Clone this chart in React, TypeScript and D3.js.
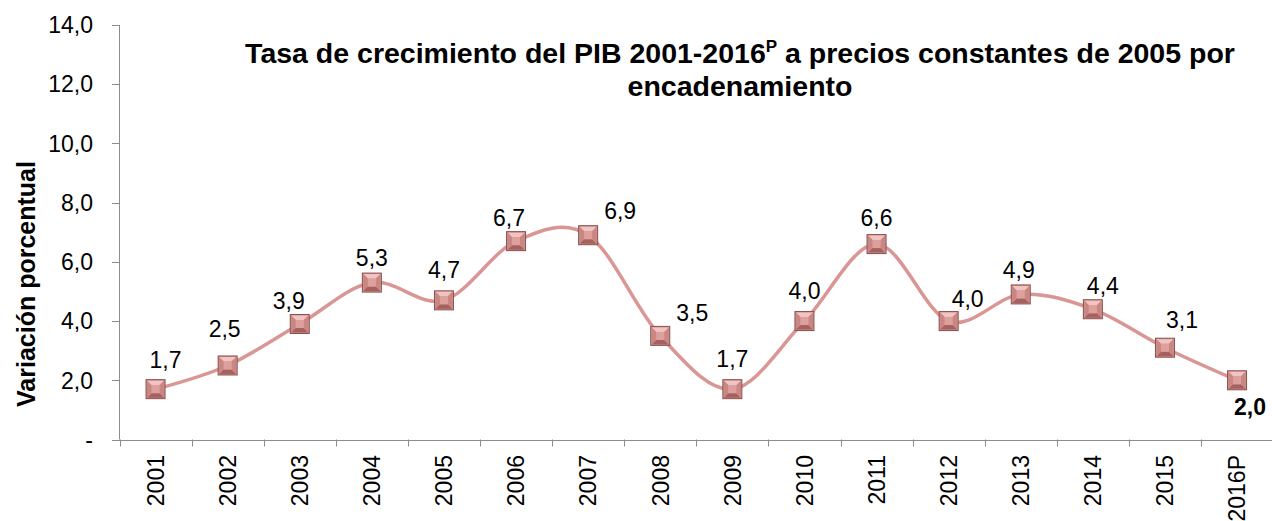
import React from "react";
import * as d3 from "d3";

const categories = ["2001","2002","2003","2004","2005","2006","2007","2008","2009","2010","2011","2012","2013","2014","2015","2016P"];
const values = [1.7, 2.5, 3.9, 5.3, 4.7, 6.7, 6.9, 3.5, 1.7, 4.0, 6.6, 4.0, 4.9, 4.4, 3.1, 2.0];
const yTicks = [0, 2, 4, 6, 8, 10, 12, 14];
// label placement (px offsets from marker center, to label baseline center)
const labelOffsets: [number, number][] = [
  [10, -21], [-3, -28], [-11, -15], [0, -17], [0, -22], [-7, -15], [32, -16], [32, -15],
  [0, -22], [0, -22], [0, -18], [19, -14], [-2, -16], [10, -15], [17, -20], [13, 35],
];

const W = 1272, H = 521;
const fmt = (v: number) => (v === 0 ? "-" : v.toFixed(1).replace(".", ","));

export default function App() {
  const x = d3.scaleBand<string>().domain(categories).range([119.5, 119.5 + 16 * 72.1]).padding(0);
  const y = d3.scaleLinear().domain([0, 14]).range([439.5, 25]);
  const pts: [number, number][] = values.map((v, i) => [x(categories[i])! + x.bandwidth() / 2, y(v)]);
  const line = d3.line().curve(d3.curveCardinal.tension(0))(pts) || "";
  const axisColor = "#8c8c8c";
  const font = "'Liberation Sans', Arial, sans-serif";
  const ms = 9.5;
  const inner = 4;
  const fs = 23;
  return (
    <div style={{ position: "absolute", left: 0, top: 0 }}>
      <svg width={W} height={H} style={{ display: "block", background: "#fff" }} fontFamily={font}>
        {/* title */}
        <text x={740} y={63} textAnchor="middle" fontSize={28.5} fontWeight="bold" fill="#000">
          Tasa de crecimiento del PIB 2001-2016<tspan fontSize={17} dy={-11}>P</tspan>
          <tspan dy={11}> a precios constantes de 2005 por</tspan>
        </text>
        <text x={740} y={96} textAnchor="middle" fontSize={28.5} fontWeight="bold" fill="#000">
          encadenamiento
        </text>
        {/* y axis title */}
        <text transform={`translate(35,284) rotate(-90)`} textAnchor="middle" fontSize={25} fontWeight="bold" fill="#000">
          Variación porcentual
        </text>
        {/* y axis */}
        <line x1={119.5} x2={119.5} y1={y(14)} y2={y(0)} stroke={axisColor} strokeWidth={1} />
        {yTicks.map((t) => (
          <g key={t}>
            <line x1={112} x2={119.5} y1={Math.round(y(t)) + 0.5} y2={Math.round(y(t)) + 0.5} stroke={axisColor} />
            <text x={93} y={y(t)} dy="0.36em" textAnchor="end" fontSize={fs} fill="#000">{fmt(t)}</text>
          </g>
        ))}
        {/* x axis */}
        <line x1={112} x2={W} y1={Math.round(y(0)) + 0.5} y2={Math.round(y(0)) + 0.5} stroke={axisColor} />
        {categories.map((c) => (
          <g key={c}>
            <line x1={Math.round(x(c)!) + 0.5} x2={Math.round(x(c)!) + 0.5} y1={y(0)} y2={y(0) + 7} stroke={axisColor} />
            <text transform={`translate(${x(c)! + x.bandwidth() / 2},455) rotate(-90)`} textAnchor="end" dy="0.36em" fontSize={fs} fill="#000">{c}</text>
          </g>
        ))}
        {/* line */}
        <path d={line} fill="none" stroke="#d99694" strokeWidth={3.5} />
        {/* markers */}
        {pts.map(([px, py], i) => (
          <g key={i} transform={`translate(${px},${py})`}>
            <rect x={-ms} y={-ms} width={2 * ms} height={2 * ms} fill="#d6918e" stroke="#8a4f4d" strokeWidth={1} />
            <polygon points={`${-ms + 1},${-ms + 1} ${ms - 1},${-ms + 1} ${inner},${-inner} ${-inner},${-inner}`} fill="#f0c4c2" />
            <polygon points={`${-ms + 1},${ms - 1} ${ms - 1},${ms - 1} ${inner},${inner} ${-inner},${inner}`} fill="#a5615f" />
            <polygon points={`${-ms + 1},${-ms + 1} ${-inner},${-inner} ${-inner},${inner} ${-ms + 1},${ms - 1}`} fill="#c98784" />
            <polygon points={`${ms - 1},${-ms + 1} ${inner},${-inner} ${inner},${inner} ${ms - 1},${ms - 1}`} fill="#c98784" />
            <rect x={-inner} y={-inner} width={2 * inner} height={2 * inner} fill="#dda09d" />
          </g>
        ))}
        {/* labels */}
        {pts.map(([px, py], i) => (
          <text key={i} x={px + labelOffsets[i][0]} y={py + labelOffsets[i][1]} textAnchor="middle" fontSize={fs}
            fontWeight={i === values.length - 1 ? "bold" : "normal"} fill="#000">
            {fmt(values[i])}
          </text>
        ))}
      </svg>
    </div>
  );
}
